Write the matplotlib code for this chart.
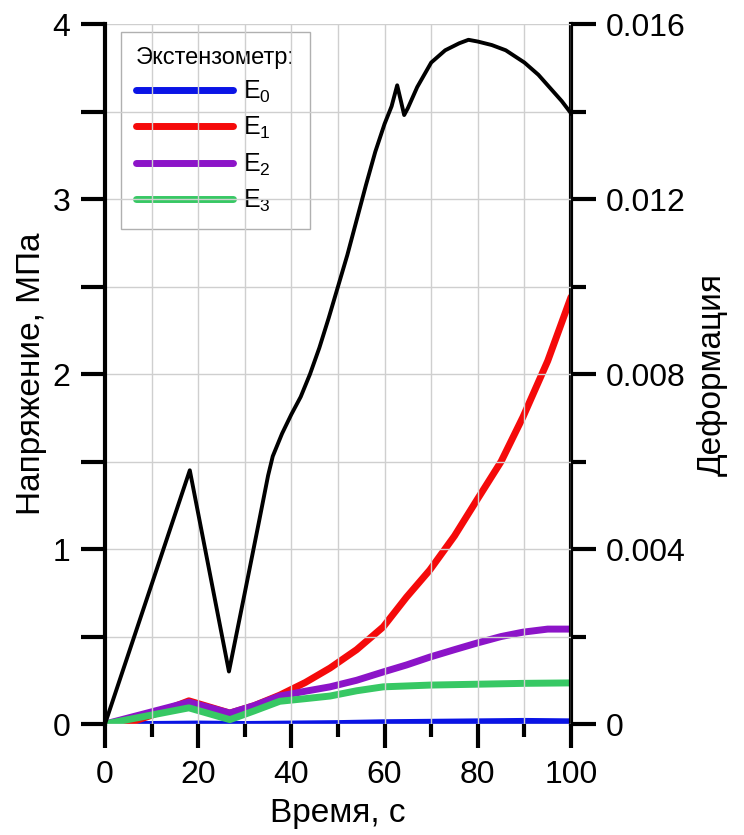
import matplotlib
matplotlib.use("Agg")
import matplotlib.pyplot as plt
from matplotlib.ticker import MultipleLocator

# Шрифт как в оригинале (Arial-подобный)
plt.rcParams['font.family'] = ['Liberation Sans', 'DejaVu Sans']
plt.rcParams['mathtext.fontset'] = 'custom'
plt.rcParams['mathtext.rm'] = 'Liberation Sans'
plt.rcParams['mathtext.it'] = 'Liberation Sans:italic'

# Напряжение (левая ось), МПа
t_stress = [0, 18.2, 26.6, 30, 33, 35, 36, 38, 40, 42, 44, 46, 48, 50, 52, 54, 56, 58,
            60, 61.5, 62.7, 63.5, 64.2, 65, 67, 70, 73, 76, 78, 80, 83, 86, 90, 93, 96, 98, 100]
stress = [0.0, 1.45, 0.30, 0.75, 1.15, 1.42, 1.53, 1.66, 1.77, 1.87, 2.00, 2.15, 2.32, 2.50,
          2.68, 2.88, 3.08, 3.27, 3.43, 3.53, 3.65, 3.56, 3.48, 3.52, 3.64, 3.78, 3.85, 3.89,
          3.91, 3.90, 3.88, 3.85, 3.78, 3.71, 3.62, 3.56, 3.49]

# Деформация (правая ось), экстензометры E0..E3
t_e0 = [0, 10, 20, 30, 40, 50, 60, 70, 80, 90, 100]
e0 = [0.0, -0.00001, 0.0, -0.00001, 0.0, 0.00001, 0.00003, 0.00004, 0.00005, 0.00006, 0.00005]

t_e1 = [0, 5, 10, 18, 26.8, 32, 37.5, 43, 48.3, 54, 59.7, 64.7, 69.7, 75, 79.8, 85, 89.7, 95, 100]
e1 = [0.0, 0.00002, 0.0002, 0.00053, 0.00025, 0.00042, 0.00066, 0.00095, 0.00128, 0.0017,
      0.00222, 0.0029, 0.00352, 0.0043, 0.00512, 0.006, 0.00702, 0.0083, 0.00976]

t_e2 = [0, 18, 26.8, 32, 37.5, 43, 48.3, 54, 59.7, 64.7, 69.7, 75, 79.8, 85, 89.7, 95, 100]
e2 = [0.0, 0.0005, 0.00025, 0.00042, 0.00064, 0.00075, 0.00085, 0.001, 0.00119, 0.00135,
      0.00153, 0.0017, 0.00185, 0.002, 0.0021, 0.00217, 0.00217]

t_e3 = [0, 18, 26.8, 32, 37.5, 43, 48.3, 54, 59.7, 69.7, 79.8, 90, 100]
e3 = [0.0, 0.00037, 0.0001, 0.0003, 0.00052, 0.00058, 0.00064, 0.00076, 0.00085, 0.00089,
      0.00091, 0.00093, 0.00094]

labels = [r'E$_\mathregular{0}$', r'E$_\mathregular{1}$', r'E$_\mathregular{2}$', r'E$_\mathregular{3}$']
colors = ['#0a14e6', '#f50a0a', '#8c14c8', '#37c864']

fig = plt.figure(figsize=(7.44, 8.35), dpi=100)
ax = fig.add_axes([0.1411, 0.1329, 0.6264, 0.8383])
ax2 = ax.twinx()

# Сетка
ax.set_axisbelow(True)
ax.grid(True, which='both', color='#cfcfcf', linewidth=1.0)

# Кривые деформации
for tt, ee, lab, c in zip([t_e0, t_e1, t_e2, t_e3], [e0, e1, e2, e3], labels, colors):
    ax2.plot(tt, ee, color=c, linewidth=5.0, label=lab, solid_capstyle='round', zorder=2)

# Кривая напряжения поверх
ax.plot(t_stress, stress, color='black', linewidth=2.8, zorder=5)
ax.set_zorder(ax2.get_zorder() + 1)
ax.patch.set_visible(False)

ax.set_xlim(0, 100)
ax.set_ylim(0, 4)
ax2.set_ylim(0, 0.016)

ax.xaxis.set_major_locator(MultipleLocator(20))
ax.xaxis.set_minor_locator(MultipleLocator(10))
ax.yaxis.set_major_locator(MultipleLocator(1))
ax.yaxis.set_minor_locator(MultipleLocator(0.5))
ax2.yaxis.set_major_locator(MultipleLocator(0.004))
ax2.yaxis.set_minor_locator(MultipleLocator(0.002))
ax2.yaxis.set_major_formatter(matplotlib.ticker.FuncFormatter(
    lambda v, p: '0' if abs(v) < 1e-12 else f'{v:.3f}'))

for a in (ax, ax2):
    a.spines['top'].set_visible(False)
    a.spines['bottom'].set_visible(False)
ax.spines['right'].set_visible(False)
ax2.spines['left'].set_visible(False)
ax.spines['left'].set_linewidth(3.0)
ax2.spines['right'].set_linewidth(3.0)

ax.tick_params(axis='y', which='major', direction='out', length=17, width=3.0, labelsize=23, pad=8)
ax.tick_params(axis='y', which='minor', direction='out', length=17, width=3.0)
ax.tick_params(axis='x', which='major', direction='out', length=17, width=3.0, labelsize=23, pad=9)
ax.tick_params(axis='x', which='minor', direction='out', length=9, width=3.0)
ax2.tick_params(axis='y', which='major', direction='out', length=18, width=3.0, labelsize=23, pad=7)
ax2.tick_params(axis='y', which='minor', direction='out', length=11, width=3.0)

ax.set_xlabel('Время, с', fontsize=24, labelpad=6)
ax.set_ylabel('Напряжение, МПа', fontsize=24, labelpad=4)
ax2.set_ylabel('Деформация', fontsize=24, labelpad=8)

leg = ax2.legend(loc='upper left', bbox_to_anchor=(0.1626, 0.9617),
                 bbox_transform=fig.transFigure, title='Экстензометр:',
                 title_fontsize=17, fontsize=18, frameon=True, fancybox=False,
                 edgecolor='#b0b0b0', framealpha=1, handlelength=3.9, handletextpad=0.4,
                 borderaxespad=0, labelspacing=0.4, borderpad=0.6, alignment='left')
leg.get_frame().set_linewidth(1.0)

fig.savefig('out.png', dpi=100)
